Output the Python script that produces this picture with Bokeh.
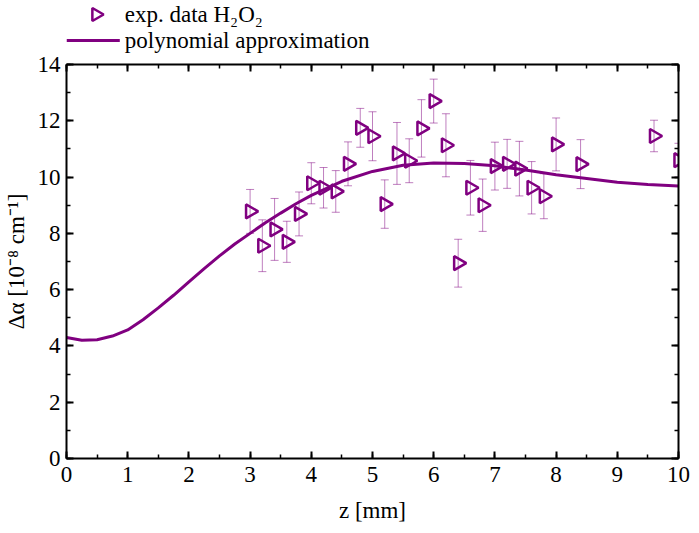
import numpy as np
from bokeh.plotting import figure
from bokeh.layouts import column
from bokeh.models import (ColumnDataSource, Range1d, LinearAxis, SingleIntervalTicker,
                          Whisker, TeeHead)
from bokeh.core.properties import value
from bokeh.embed import file_html
from bokeh.resources import INLINE

# ---- data ----
z_exp = [3.0, 3.2, 3.4, 3.6, 3.8, 4.0, 4.2, 4.4, 4.6, 4.8, 5.0, 5.2, 5.4, 5.6, 5.8,
         6.0, 6.2, 6.4, 6.6, 6.8, 7.0, 7.2, 7.4, 7.6, 7.8, 8.0, 8.4, 9.6, 10.0]
da_exp = [8.78, 7.56, 8.14, 7.70, 8.69, 9.78, 9.62, 9.49, 10.47, 11.75, 11.45, 9.04,
          10.84, 10.58, 11.73, 12.70, 11.13, 6.94, 9.62, 9.00, 10.39, 10.47, 10.30,
          9.62, 9.32, 11.16, 10.46, 11.46, 10.60]
da_err = [0.78, 0.92, 1.10, 0.73, 0.78, 0.73, 0.72, 0.74, 0.78, 0.69, 0.87, 0.86,
          1.10, 0.78, 1.02, 0.78, 1.12, 0.85, 0.97, 0.93, 0.85, 0.87, 0.97, 0.93,
          0.80, 0.94, 0.87, 0.56, 0.60]

z_fit = [0, 0.25, 0.5, 0.75, 1.0, 1.25, 1.5, 1.75, 2.0, 2.25, 2.5, 2.75, 3.0, 3.25,
         3.5, 3.75, 4.0, 4.5, 5.0, 5.5, 6.0, 6.5, 7.0, 7.5, 8.0, 8.5, 9.0, 9.5, 10.0]
da_fit = [4.30, 4.20, 4.22, 4.35, 4.57, 4.93, 5.35, 5.80, 6.28, 6.75, 7.20, 7.62, 8.00,
          8.38, 8.72, 9.05, 9.35, 9.85, 10.20, 10.42, 10.50, 10.48, 10.40, 10.25,
          10.08, 9.95, 9.82, 9.74, 9.68]

legend_labels = ["exp. data H\u2082O\u2082", "polynomial approximation"]
x_label = "z [mm]"
y_label = "\u0394\u03b1 [10\u207b\u2078 cm\u207b\u00b9]"

PURPLE = "#800080"
FONT = "Liberation Serif"
FS = "23px"
W = 691
BL, BR = 58, 13
FW = W - BL - BR          # frame width in pixels (frames are aligned in the column)
LEG_H = 53
MAIN_H = 472

# ---------------- legend strip (pixel coordinates inside the aligned frame) -------
leg = figure(width=W, height=LEG_H, x_range=Range1d(0, FW), y_range=Range1d(0, LEG_H),
             output_backend="svg", toolbar_location=None, title=None,
             x_axis_location=None, y_axis_location=None, min_border=0,
             min_border_left=BL, min_border_right=BR)
leg.outline_line_color = None
leg.grid.visible = False
row_y = [LEG_H - 14, LEG_H - 40]
leg.scatter([30], [row_y[0]], marker="triangle", angle=-np.pi / 2, size=13,
            fill_color=None, line_color=PURPLE, line_width=2.5)
leg.segment([0], [row_y[1]], [54], [row_y[1]], line_color=PURPLE, line_width=3)
leg.text([59, 59], row_y, text=legend_labels, text_font=value(FONT),
         text_font_size=FS, text_baseline="middle", text_align="left",
         text_color="black")

# ---------------- main plot ----------------
y_arr = np.array(da_exp)
e_arr = np.array(da_err)
src = ColumnDataSource(dict(z=z_exp, da=da_exp, up=y_arr + e_arr, lo=y_arr - e_arr))

p = figure(width=W, height=MAIN_H, x_range=Range1d(0, 10), y_range=Range1d(0, 14),
           output_backend="svg", toolbar_location=None, title=None,
           min_border_left=BL, min_border_right=BR, min_border_top=11,
           min_border_bottom=66)
p.outline_line_color = None
p.grid.visible = False

wh = Whisker(source=src, base="z", upper="up", lower="lo", dimension="height",
             line_color=PURPLE, line_alpha=0.5, line_width=1,
             upper_head=TeeHead(size=8, line_color=PURPLE, line_alpha=0.5, line_width=1),
             lower_head=TeeHead(size=8, line_color=PURPLE, line_alpha=0.5, line_width=1))
p.add_layout(wh)

p.line(z_fit, da_fit, line_color=PURPLE, line_width=3)
p.scatter("z", "da", source=src, marker="triangle", angle=-np.pi / 2,
          size=14, fill_color=None, line_color=PURPLE, line_width=2.5)


def style_axis(ax, labels=True):
    ax.axis_line_width = 2
    ax.axis_line_color = "black"
    ax.major_tick_in = 7
    ax.major_tick_out = 0
    ax.minor_tick_in = 4
    ax.minor_tick_out = 0
    ax.major_tick_line_width = 2
    ax.minor_tick_line_width = 1.5
    ax.major_label_text_font = FONT
    ax.axis_label_text_font = FONT
    ax.axis_label_text_font_style = "normal"
    ax.major_label_text_color = "black"
    ax.axis_label_text_color = "black"
    ax.major_label_text_font_size = FS
    ax.axis_label_text_font_size = FS
    if not labels:
        ax.major_label_overrides = {i: "" for i in range(0, 15)}
        ax.major_label_standoff = 0


xa = p.xaxis[0]
xa.ticker = SingleIntervalTicker(interval=1, num_minor_ticks=2)
xa.axis_label = x_label
style_axis(xa)
xa.major_label_standoff = 8
xa.axis_label_standoff = 13

ya = p.yaxis[0]
ya.ticker = SingleIntervalTicker(interval=2, num_minor_ticks=2)
ya.axis_label = y_label
style_axis(ya)
ya.major_label_standoff = 6
ya.axis_label_standoff = 6

top_ax = LinearAxis(ticker=SingleIntervalTicker(interval=1, num_minor_ticks=2))
style_axis(top_ax, labels=False)
p.add_layout(top_ax, "above")
right_ax = LinearAxis(ticker=SingleIntervalTicker(interval=2, num_minor_ticks=2))
style_axis(right_ax, labels=False)
p.add_layout(right_ax, "right")

layout = column(leg, p, spacing=0)
open("out.html", "w").write(file_html(layout, INLINE))
